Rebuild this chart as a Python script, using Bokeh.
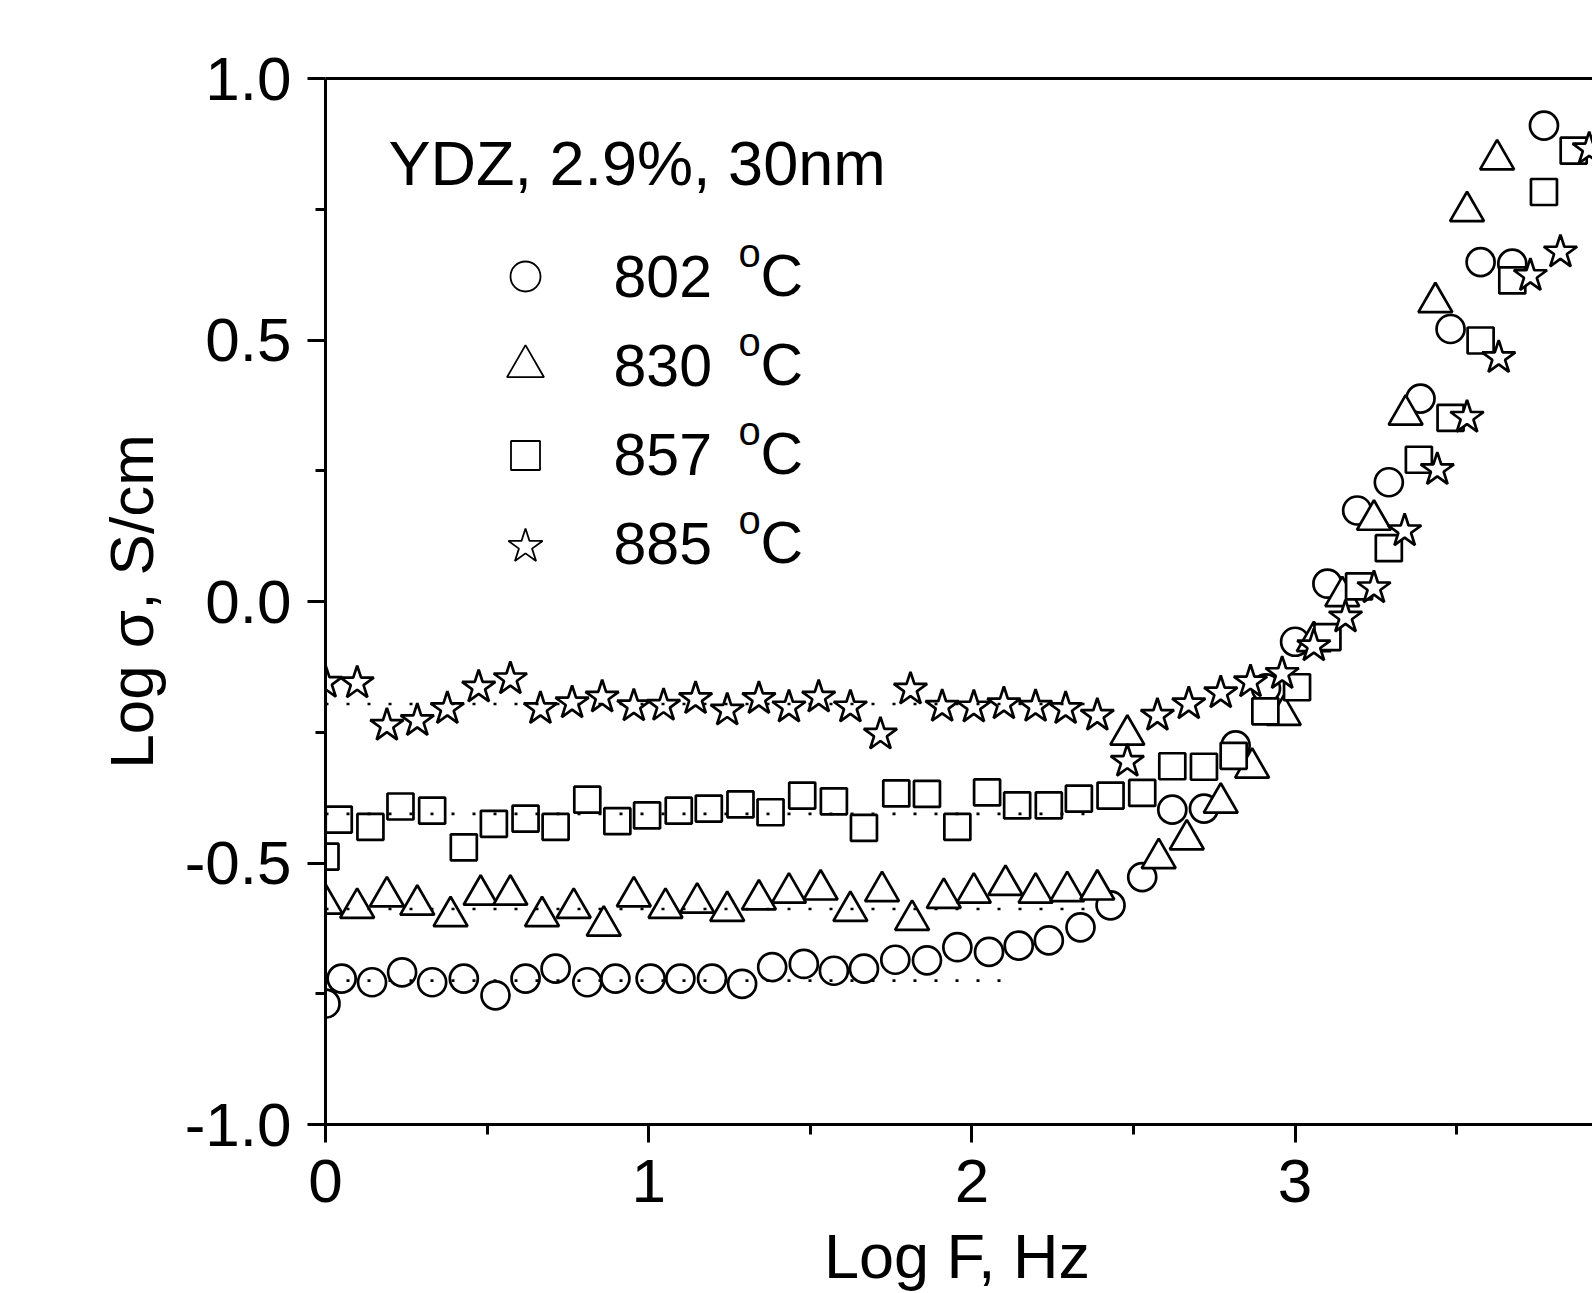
from bokeh.plotting import figure
from bokeh.layouts import column
from bokeh.models import Range1d, FixedTicker, LinearAxis, Label, NumeralTickFormatter, Div
from bokeh.embed import file_html
from bokeh.resources import INLINE

# ---------------- data ----------------
series_labels = ["802", "830", "857", "885"]

logf_802 = [0.0, 0.05, 0.144, 0.237, 0.33, 0.428, 0.526, 0.619, 0.712, 0.81,
            0.897, 1.006, 1.098, 1.196, 1.289, 1.382, 1.48, 1.573, 1.666, 1.763,
            1.861, 1.955, 2.053, 2.145, 2.238, 2.336, 2.429, 2.527, 2.62, 2.718,
            2.816, 2.91, 3.0, 3.1, 3.192, 3.29, 3.388, 3.481, 3.574, 3.672, 3.77]
sigma_802 = [-0.769, -0.721, -0.728, -0.709, -0.728, -0.721, -0.753, -0.721, -0.702, -0.728,
             -0.721, -0.721, -0.721, -0.721, -0.731, -0.699, -0.693, -0.706, -0.702, -0.685,
             -0.686, -0.661, -0.670, -0.658, -0.648, -0.623, -0.581, -0.527, -0.398, -0.396,
             -0.275, -0.166, -0.077, 0.034, 0.174, 0.228, 0.388, 0.521, 0.649, 0.646, 0.91]

logf_830 = [0.0, 0.098, 0.19, 0.284, 0.387, 0.48, 0.572, 0.67, 0.768, 0.861,
            0.954, 1.052, 1.15, 1.243, 1.341, 1.434, 1.532, 1.624, 1.722, 1.815,
            1.913, 2.006, 2.104, 2.197, 2.295, 2.388, 2.481, 2.578, 2.665, 2.77,
            2.867, 2.965, 3.058, 3.146, 3.244, 3.342, 3.434, 3.532, 3.625]
sigma_830 = [-0.578, -0.586, -0.564, -0.58, -0.602, -0.561, -0.561, -0.602, -0.586, -0.62,
             -0.564, -0.586, -0.576, -0.592, -0.57, -0.557, -0.551, -0.592, -0.554, -0.609,
             -0.567, -0.557, -0.542, -0.557, -0.554, -0.551, -0.255, -0.491, -0.455, -0.385,
             -0.318, -0.217, -0.076, 0.01, 0.156, 0.357, 0.572, 0.746, 0.845]

logf_857 = [0.0, 0.041, 0.139, 0.232, 0.33, 0.428, 0.521, 0.619, 0.712, 0.81,
            0.903, 0.995, 1.093, 1.186, 1.284, 1.377, 1.475, 1.573, 1.666, 1.766,
            1.861, 1.955, 2.047, 2.14, 2.238, 2.331, 2.429, 2.527, 2.62, 2.718,
            2.81, 2.908, 3.006, 3.1, 3.198, 3.29, 3.383, 3.481, 3.574, 3.672,
            3.77, 3.862]
sigma_857 = [-0.488, -0.417, -0.431, -0.392, -0.4, -0.47, -0.425, -0.415, -0.431, -0.379,
             -0.42, -0.409, -0.4, -0.396, -0.388, -0.403, -0.371, -0.382, -0.433, -0.367,
             -0.368, -0.431, -0.365, -0.39, -0.39, -0.377, -0.371, -0.366, -0.315, -0.316,
             -0.295, -0.21, -0.164, -0.068, 0.029, 0.102, 0.271, 0.351, 0.499, 0.614,
             0.783, 0.862]

logf_885 = [0.0, 0.098, 0.19, 0.284, 0.377, 0.474, 0.572, 0.665, 0.763, 0.856,
            0.954, 1.046, 1.145, 1.243, 1.341, 1.434, 1.526, 1.624, 1.717, 1.81,
            1.908, 2.006, 2.099, 2.197, 2.29, 2.388, 2.481, 2.574, 2.671, 2.77,
            2.862, 2.96, 3.058, 3.156, 3.244, 3.339, 3.44, 3.532, 3.63, 3.728,
            3.821, 3.91]
sigma_885 = [-0.155, -0.156, -0.237, -0.228, -0.205, -0.164, -0.148, -0.205, -0.194, -0.183,
             -0.2, -0.199, -0.186, -0.208, -0.186, -0.202, -0.183, -0.202, -0.254, -0.168,
             -0.201, -0.202, -0.196, -0.201, -0.205, -0.218, -0.306, -0.218, -0.196, -0.175,
             -0.154, -0.138, -0.085, -0.03, 0.026, 0.135, 0.252, 0.352, 0.466, 0.623,
             0.668, 0.865]

# dotted plateau levels (dc conductivity) and their extent in Log F
fit_level = [-0.725, -0.588, -0.406, -0.196]
fit_end = [2.125, 2.36, 2.40, 2.35]

x_ticks = [0, 1, 2, 3]
x_minor = [0.5, 1.5, 2.5, 3.5]
y_ticks = [-1.0, -0.5, 0.0, 0.5, 1.0]
y_minor = [-0.75, -0.25, 0.25, 0.75]

title_text = "YDZ, 2.9%, 30nm"
x_title = "Log F, Hz"
y_title = "Log \u03c3, S/cm"

# ---------------- layout ----------------
FONT = "Liberation Sans"
PAGE_W, PAGE_H = 1592, 1293
LEFT, TOP = 325, 78
FRAME_BOTTOM = 1124
FIG_H = 1235
PX_X = 323.2                      # pixels per Log F unit
PX_Y = (FRAME_BOTTOM - TOP) / 2.0 # pixels per Log sigma unit
x_end = (PAGE_W - LEFT) / PX_X


def dx(X):
    return (X - LEFT) / PX_X


def dy(Y):
    return 1.0 - (Y - TOP) / PX_Y


def mid(baseline, fs):
    # vertical centre of a text line whose alphabetic baseline is at `baseline`
    return dy(baseline - 0.36 * fs)


p = figure(width=PAGE_W, height=FIG_H, output_backend="svg", toolbar_location=None,
           x_range=Range1d(0, x_end), y_range=Range1d(-1.0, 1.0),
           min_border_left=LEFT, min_border_right=0,
           min_border_top=TOP, min_border_bottom=FIG_H - FRAME_BOTTOM,
           x_axis_type=None, y_axis_type=None)
p.outline_line_color = None
p.xgrid.visible = False
p.ygrid.visible = False
p.background_fill_color = "white"
p.border_fill_color = "white"


def style_axis(ax, standoff):
    ax.axis_line_width = 3
    ax.axis_line_color = "black"
    ax.major_tick_line_width = 3
    ax.minor_tick_line_width = 3
    ax.major_tick_out = 18
    ax.major_tick_in = 0
    ax.minor_tick_out = 10
    ax.minor_tick_in = 0
    ax.major_label_text_font = FONT
    ax.major_label_text_font_size = "62px"
    ax.major_label_text_color = "black"
    ax.major_label_standoff = standoff


xaxis = LinearAxis(ticker=FixedTicker(ticks=x_ticks, minor_ticks=x_minor))
style_axis(xaxis, 17)
p.add_layout(xaxis, "below")

yaxis = LinearAxis(ticker=FixedTicker(ticks=y_ticks, minor_ticks=y_minor),
                   formatter=NumeralTickFormatter(format="0.0"))
style_axis(yaxis, 16)
yaxis.axis_label = y_title
yaxis.axis_label_text_font = FONT
yaxis.axis_label_text_font_size = "62px"
yaxis.axis_label_text_font_style = "normal"
yaxis.axis_label_text_color = "black"
yaxis.axis_label_standoff = 16
p.add_layout(yaxis, "left")

top_axis = LinearAxis(ticker=FixedTicker(ticks=[]))
top_axis.axis_line_width = 3
top_axis.major_tick_line_color = None
top_axis.minor_tick_line_color = None
top_axis.major_label_text_font_size = "0px"
p.add_layout(top_axis, "above")

# ---------------- markers ----------------
LW = 2.7
p.scatter(logf_802, sigma_802, marker="circle", size=28, fill_color="white",
          line_color="black", line_width=LW)
p.scatter(logf_830, sigma_830, marker="triangle", size=34, fill_color="white",
          line_color="black", line_width=LW)
p.scatter(logf_857, sigma_857, marker="square", size=26, fill_color="white",
          line_color="black", line_width=LW)
p.scatter(logf_885, sigma_885, marker="star", size=35, fill_color="white",
          line_color="black", line_width=LW)

# dotted plateau lines (on top of the markers)
for lvl, end in zip(fit_level, fit_end):
    p.line([0, end], [lvl, lvl], line_color="black", line_width=2.7,
           line_dash="3 18")

# ---------------- legend (manual) ----------------
markers = ["circle", "triangle", "square", "star"]
leg_sizes = [30, 37, 29, 36]
leg_marker_y = [276, 366, 455, 546]
leg_base_y = [297, 386, 475, 564]
for m, s, my in zip(markers, leg_sizes, leg_marker_y):
    p.scatter([dx(525)], [dy(my)], marker=m, size=s, fill_color="white",
              line_color="black", line_width=1.8)
for lab, by in zip(series_labels, leg_base_y):
    p.add_layout(Label(x=dx(613), y=mid(by, 59), text=lab, text_font=FONT,
                       text_font_size="59px", text_color="black",
                       text_align="left", text_baseline="middle"))
    p.add_layout(Label(x=dx(738), y=mid(by - 30, 40), text="o", text_font=FONT,
                       text_font_size="40px", text_color="black",
                       text_align="left", text_baseline="middle"))
    p.add_layout(Label(x=dx(760), y=mid(by, 59), text="C", text_font=FONT,
                       text_font_size="59px", text_color="black",
                       text_align="left", text_baseline="middle"))

# title text inside the plot
p.add_layout(Label(x=dx(388), y=mid(185, 63), text=title_text, text_font=FONT,
                   text_font_size="63px", text_color="black",
                   text_align="left", text_baseline="middle"))

# x axis title below the figure
xlab = Div(text=x_title, width=PAGE_W, height=PAGE_H - FIG_H,
           styles={"font-family": FONT, "font-size": "63px", "line-height": "43px",
                   "color": "black", "text-align": "center",
                   "padding-left": "322px", "box-sizing": "border-box",
                   "white-space": "nowrap", "margin": "0"})

layout = column(p, xlab, spacing=0)
open("out.html", "w").write(file_html(layout, INLINE))
